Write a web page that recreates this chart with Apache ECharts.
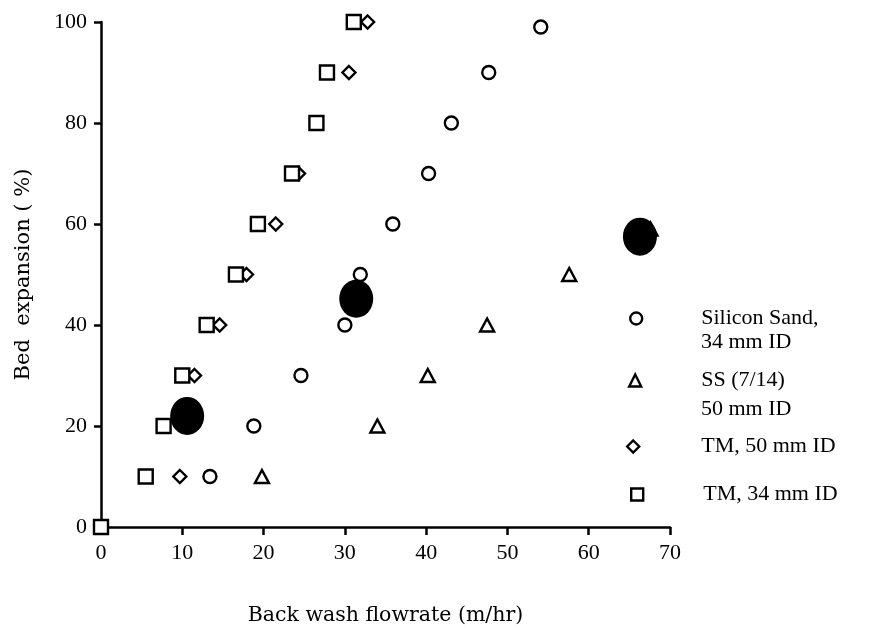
<!DOCTYPE html>
<html>
<head>
<meta charset="utf-8">
<script src="https://cdn.jsdelivr.net/npm/echarts@6/dist/echarts.min.js"></script>
<style>
  html, body { margin: 0; padding: 0; background: #fff; }
  #chart { width: 873px; height: 631px; }
</style>
</head>
<body>
<div id="chart"></div>
<script>
// Back wash flowrate (m/hr) vs bed expansion (%)
const silicaSand34 = [[13.4, 10], [18.8, 20], [24.6, 30], [30.0, 40], [31.9, 50], [35.9, 60], [40.3, 70], [43.1, 80], [47.7, 90], [54.1, 99]];
const ss714_50 = [[19.8, 10], [34.0, 20], [40.2, 30], [47.5, 40], [57.6, 50], [67.6, 59]];
const tm50 = [[9.7, 10], [11.5, 30], [14.6, 40], [17.9, 50], [21.5, 60], [24.3, 70], [30.5, 90], [32.8, 100]];
const tm34 = [[0, 0], [5.5, 10], [7.7, 20], [10.0, 30], [13.0, 40], [16.6, 50], [19.3, 60], [23.5, 70], [26.5, 80], [27.8, 90], [31.1, 100]];
// solid blots over the plot
const blots = [[10.6, 22], [31.4, 45.2], [66.3, 57.5]];

const xTicks = { min: 0, max: 70, interval: 10 };
const yTicks = { min: 0, max: 100, interval: 20 };

const names = ['Silicon Sand,\n34 mm ID', 'SS (7/14)\n50 mm ID', 'TM, 50 mm ID', 'TM, 34 mm ID'];

const FONT = '"Liberation Serif", serif';
const TITLE_FONT = '"DejaVu Serif", serif';
const markStyle = { color: '#fff', borderColor: '#000', borderWidth: 2.4, opacity: 1 };

function openSeries(name, data, symbol, size) {
  return {
    name, type: 'scatter', data, symbol, symbolSize: size,
    itemStyle: markStyle, z: 3,
    emphasis: { disabled: true }
  };
}

// one legend block per series; only the first line of a name sits beside the icon
function legendAt(name, icon, left, top, padLeft) {
  return {
    data: [{ name, icon }],
    left, top,
    padding: 0,
    itemWidth: 12, itemHeight: 12,
    itemStyle: markStyle,
    selectedMode: false,
    formatter: n => n.split('\n')[0],
    textStyle: {
      fontFamily: FONT, fontSize: 22, color: '#000', lineHeight: 25,
      padding: [0, 0, 0, padLeft]
    }
  };
}

// second lines of the two-line legend names
function legendTail(text, y) {
  return {
    type: 'text', left: 701, top: y - 12,
    style: { text, font: '22px ' + FONT, fill: '#000' }
  };
}

const chart = echarts.init(document.getElementById('chart'), null, { renderer: 'canvas' });
chart.setOption({
  animation: false,
  backgroundColor: '#fff',
  grid: { left: 101, right: 203, top: 22, bottom: 104 },
  xAxis: {
    type: 'value', min: xTicks.min, max: xTicks.max, interval: xTicks.interval,
    name: 'Back wash flowrate (m/hr)', nameLocation: 'middle', nameGap: 78,
    nameTextStyle: { fontFamily: TITLE_FONT, fontSize: 20.5, color: '#000' },
    axisLine: { lineStyle: { color: '#000', width: 2.5 } },
    axisTick: { length: 8, lineStyle: { color: '#000', width: 2.5 } },
    axisLabel: { fontFamily: FONT, fontSize: 22, color: '#000', margin: 15 },
    splitLine: { show: false }
  },
  yAxis: {
    type: 'value', min: yTicks.min, max: yTicks.max, interval: yTicks.interval,
    name: 'Bed  expansion ( %)', nameLocation: 'middle', nameGap: 67,
    nameTextStyle: { fontFamily: TITLE_FONT, fontSize: 21, color: '#000' },
    axisLine: { lineStyle: { color: '#000', width: 2.5 } },
    axisTick: { length: 7, lineStyle: { color: '#000', width: 2.5 } },
    axisLabel: { fontFamily: FONT, fontSize: 22, color: '#000', margin: 14 },
    splitLine: { show: false }
  },
  legend: [
    legendAt(names[0], 'circle', 629, 306, 54),
    legendAt(names[1], 'triangle', 628, 368, 55),
    legendAt(names[2], 'diamond', 626, 434, 57),
    legendAt(names[3], 'rect', 630, 482, 55)
  ],
  graphic: [
    legendTail('34 mm ID', 343),
    legendTail('50 mm ID', 410)
  ],
  series: [
    openSeries(names[0], silicaSand34, 'circle', 13),
    openSeries(names[1], ss714_50, 'triangle', [14, 13]),
    openSeries(names[2], tm50, 'diamond', [13, 13]),
    openSeries(names[3], tm34, 'rect', [14, 14]),
    {
      name: 'blot', type: 'scatter', data: blots, symbol: 'circle',
      symbolSize: [34, 38], itemStyle: { color: '#000', opacity: 1 }, z: 5,
      emphasis: { disabled: true }
    }
  ]
});
</script>
</body>
</html>
